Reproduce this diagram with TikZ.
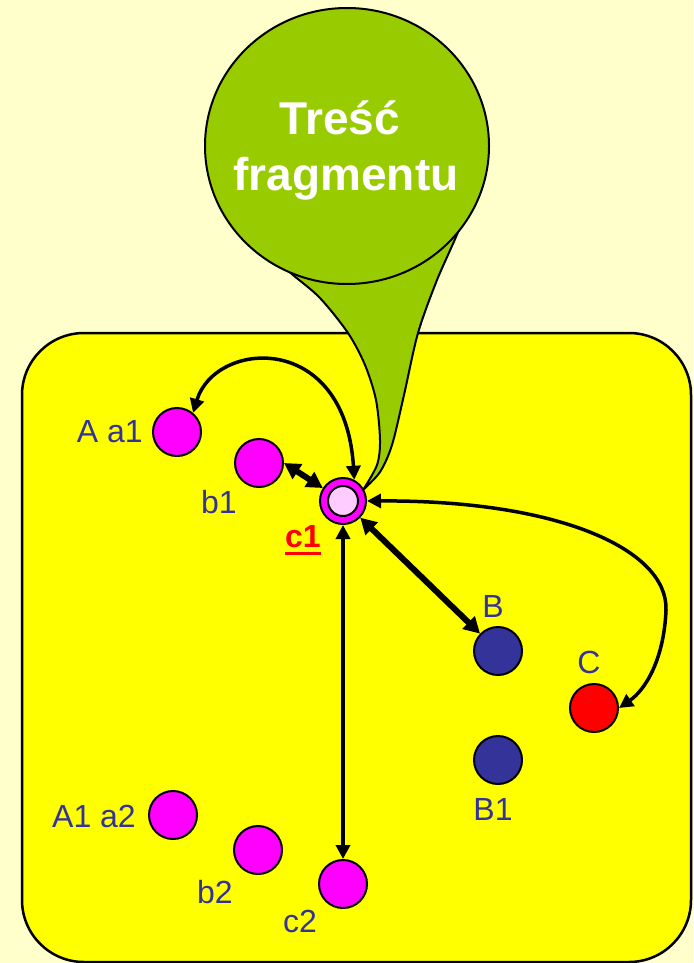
\documentclass[tikz,border=0pt]{standalone}
\usepackage{fontspec}
\setmainfont{Liberation Sans}
\usetikzlibrary{arrows.meta,shapes.geometric}
\definecolor{bgc}{HTML}{FFFFCC}
\definecolor{boxc}{HTML}{FFFF00}
\definecolor{greenc}{HTML}{99CC00}
\definecolor{magc}{HTML}{FF00FF}
\definecolor{pinkc}{HTML}{FFCCFF}
\definecolor{navyc}{HTML}{333399}
\definecolor{redc}{HTML}{FF0000}
\newcommand\myuline[1]{\setbox0\hbox{#1}\rlap{\raisebox{-8pt}{\rule{\wd0}{3pt}}}\box0}
\begin{document}
\begin{tikzpicture}[x=1pt,y=-1pt,
  dot/.style={circle,draw=black,line width=2pt,minimum size=48pt,inner sep=0pt},
  magdot/.style={dot,fill=magc},
  navydot/.style={dot,fill=navyc},
  lbl/.style={text=navyc,font=\fontsize{32}{38}\selectfont,inner sep=0pt},
  ttl/.style={text=white,font=\bfseries\fontsize{46}{55}\selectfont,inner sep=0pt,anchor=base},
  tipthin/.style={{Triangle[length=14pt,width=14pt]}-{Triangle[length=14pt,width=14pt]}},
  tipthick/.style={{Triangle[length=16pt,width=17pt]}-{Triangle[length=16pt,width=17pt]}},
  arrthin/.style={tipthin,line width=3.5pt},
  arrthick/.style={tipthick,line width=6pt}]
\fill[bgc] (0,0) rectangle (693,963);
\useasboundingbox (0,0) rectangle (693,963);
% main box
\draw[fill=boxc,line width=2.5pt,rounded corners=62pt] (22,333) rectangle (691,962);
% callout tail
\draw[fill=greenc,line width=2pt,line join=miter]
  plot[smooth] coordinates {(465,200) (460,227) (437,280) (418,333) (404,395) (392,445) (380,472) (363,490)}
  -- plot[smooth] coordinates {(363,490) (377,465) (380,440) (376,400) (365,365) (348,333) (320,298) (293,275) (270,255)}
  -- cycle;
% callout bubble
\node[ellipse,draw=black,fill=greenc,line width=2pt,minimum width=284pt,minimum height=276pt,inner sep=0pt] (bubble) at (347,146) {};
\node[ttl] (t1) at (340,135) {Treść};
\node[ttl] (t2) at (346,190) {fragmentu};
% nodes
\node[magdot] (a1) at (177,432) {};
\node[magdot] (b1) at (259,463) {};
\node[circle,draw=black,fill=magc,line width=2pt,minimum size=46pt,inner sep=0pt] (c1) at (343,501) {};
\node[circle,draw=black,fill=pinkc,line width=2pt,minimum size=30pt,inner sep=0pt] (c1in) at (343,501) {};
\node[navydot] (B) at (498,651) {};
\node[dot,fill=redc] (C) at (594,708) {};
\node[navydot] (B1) at (498,760) {};
\node[magdot] (a2) at (173,815) {};
\node[magdot] (b2) at (258,850) {};
\node[magdot] (c2) at (343,884) {};
% labels
\node[lbl,anchor=base east] (la1) at (143,442) {A a1};
\node[lbl,anchor=base] (lb1) at (219,513) {b1};
\node[lbl,anchor=base,text=redc,font=\bfseries\fontsize{32}{38}\selectfont] (lc1) at (303,547) {\myuline{c1}};
\node[lbl,anchor=base] (lB) at (493,617) {B};
\node[lbl,anchor=base] (lC) at (589,673) {C};
\node[lbl,anchor=base] (lB1) at (493,820) {B1};
\node[lbl,anchor=base] (la2) at (94,827) {A1 a2};
\node[lbl,anchor=base] (lb2) at (215,903) {b2};
\node[lbl,anchor=base] (lc2) at (300,932) {c2};
% connectors
\draw[arrthin] (a1.50) .. controls (215,340) and (345,330) .. (c1.62);
\draw[arrthick] (b1.east) -- (c1);
\draw[arrthick] (c1) -- (B);
\draw[arrthin] (c1) -- (c2);
\draw[arrthin] (c1.east) .. controls (560,500) and (668,550) .. (666,610) .. controls (664,660) and (645,690) .. (C.east);
\end{tikzpicture}
\end{document}
